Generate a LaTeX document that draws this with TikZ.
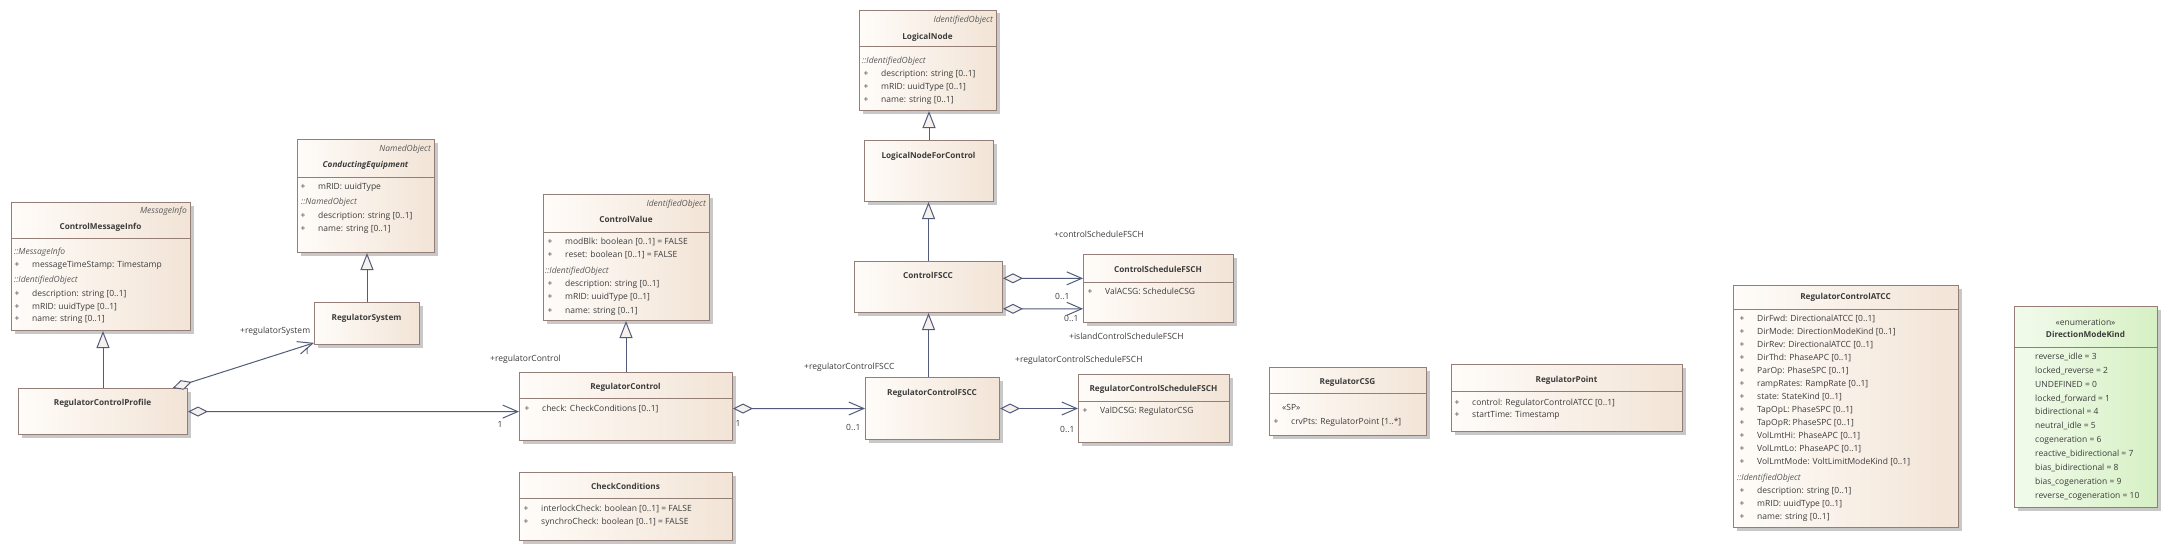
\documentclass[tikz,border=0pt]{standalone}
\usepackage{fontspec}
\setmainfont{Open Sans}
\usetikzlibrary{arrows.meta,shadows,calc}
\definecolor{fillL}{HTML}{FFFCF9}
\definecolor{fillR}{HTML}{F2E4D6}
\definecolor{gfillL}{HTML}{F2FBEC}
\definecolor{gfillR}{HTML}{D6F0C4}
\definecolor{boxc}{HTML}{947F78}
\definecolor{connc}{HTML}{525C7A}
\definecolor{txtc}{HTML}{3C3C3C}
\definecolor{sttc}{HTML}{5A5A5A}
\definecolor{shc}{HTML}{C8C8C8}
\definecolor{trif}{HTML}{F6F1EC}
\newcommand\bodyfont{\fontsize{8.5}{10}\selectfont}
\newcommand\titlefont{\fontsize{8.2}{10}\selectfont}
\newcommand\umlbox[6][cls]{\node[#1, minimum width={(#5-#3)*1pt}, minimum height={(#6-#4)*1pt}] (#2) at (#3,#4) {};}
\newcommand\sepat[2]{\draw[sepl] ([yshift=-#2pt]#1.north west) -- ([yshift=-#2pt]#1.north east);}
\tikzset{
 x=1pt, y=-1pt,
 cls/.style={draw=boxc, line width=1pt, left color=fillL, right color=fillR, inner sep=0pt, anchor=north west,
   drop shadow={shadow xshift=3pt, shadow yshift=-3pt, fill=shc, opacity=1}},
 enm/.style={cls, left color=gfillL, right color=gfillR},
 sepl/.style={draw=boxc, line width=1pt},
 t/.style={inner sep=0pt, text height=6.5pt, text depth=1.8pt, font=\bodyfont, text=txtc, anchor=west},
 pl/.style={t, anchor=center},
 it/.style={t, font=\bodyfont\itshape, text=sttc},
 ste/.style={it, anchor=east},
 ttl/.style={t, font=\titlefont\bfseries, anchor=center},
 ttli/.style={t, font=\titlefont\bfseries\itshape, anchor=center},
 conn/.style={draw=connc, line width=1pt},
 gen/.style={conn, -{Triangle[length=17pt,width=13pt,fill=trif]}},
 agg/.style={conn, {Diamond[length=20pt,width=10pt,fill=trif]}-{Straight Barb[length=15pt,width=13pt]}},
}
\begin{document}
\begin{tikzpicture}
\fill[white] (0,0) rectangle (2170,551);
\useasboundingbox (0,0) rectangle (2170,551);

% ControlMessageInfo
\umlbox{cmi}{11}{202}{190}{330}
\node[ste] (cmiS) at (187,211) {MessageInfo};
\node[ttl] (cmiT) at (100.5,227) {ControlMessageInfo};
\sepat{cmi}{36}
\node[it] (cmiA) at (14,252) {::MessageInfo};
\node[pl] (cmiP1) at (17,265) {+}; \node[t] (cmiA1) at (32,265) {messageTimeStamp: Timestamp};
\node[it] (cmiB) at (14,280) {::IdentifiedObject};
\node[pl] (cmiP2) at (17,294) {+}; \node[t] (cmiA2) at (32,294) {description: string [0..1]};
\node[pl] (cmiP3) at (17,307) {+}; \node[t] (cmiA3) at (32,307) {mRID: uuidType [0..1]};
\node[pl] (cmiP4) at (17,319) {+}; \node[t] (cmiA4) at (32,319) {name: string [0..1]};

% RegulatorControlProfile
\umlbox{rcp}{18}{388}{187}{434}
\node[ttl] (rcpT) at (102.5,403) {RegulatorControlProfile};

% ConductingEquipment
\umlbox{ce}{297}{139}{434}{252}
\node[ste] (ceS) at (431,149) {NamedObject};
\node[ttli] (ceT) at (365.5,165) {ConductingEquipment};
\sepat{ce}{38}
\node[pl] (ceP1) at (303,187) {+}; \node[t] (ceA1) at (318,187) {mRID: uuidType};
\node[it] (ceB) at (301,202) {::NamedObject};
\node[pl] (ceP2) at (303,216) {+}; \node[t] (ceA2) at (318,216) {description: string [0..1]};
\node[pl] (ceP3) at (303,229) {+}; \node[t] (ceA3) at (318,229) {name: string [0..1]};

% RegulatorSystem
\umlbox{rs}{314}{302}{419}{344}
\node[ttl] (rsT) at (366.5,318) {RegulatorSystem};

% ControlValue
\umlbox{cv}{543}{194}{709}{320}
\node[ste] (cvS) at (706,204) {IdentifiedObject};
\node[ttl] (cvT) at (626,220) {ControlValue};
\sepat{cv}{38}
\node[pl] (cvP1) at (550,242) {+}; \node[t] (cvA1) at (565,242) {modBlk: boolean [0..1] = FALSE};
\node[pl] (cvP2) at (550,255) {+}; \node[t] (cvA2) at (565,255) {reset: boolean [0..1] = FALSE};
\node[it] (cvB) at (545,271) {::IdentifiedObject};
\node[pl] (cvP3) at (550,284) {+}; \node[t] (cvA3) at (565,284) {description: string [0..1]};
\node[pl] (cvP4) at (550,297) {+}; \node[t] (cvA4) at (565,297) {mRID: uuidType [0..1]};
\node[pl] (cvP5) at (550,311) {+}; \node[t] (cvA5) at (565,311) {name: string [0..1]};

% RegulatorControl
\umlbox{rc}{519}{372}{732}{440}
\node[ttl] (rcT) at (625.5,387) {RegulatorControl};
\sepat{rc}{26}
\node[pl] (rcP1) at (527,409) {+}; \node[t] (rcA1) at (542,409) {check: CheckConditions [0..1]};

% CheckConditions
\umlbox{cc}{519}{472}{732}{540}
\node[ttl] (ccT) at (625.5,487) {CheckConditions};
\sepat{cc}{26}
\node[pl] (ccP1) at (526,509) {+}; \node[t] (ccA1) at (541,509) {interlockCheck: boolean [0..1] = FALSE};
\node[pl] (ccP2) at (526,522) {+}; \node[t] (ccA2) at (541,522) {synchroCheck: boolean [0..1] = FALSE};

% LogicalNode
\umlbox{ln}{859}{10}{996}{110}
\node[ste] (lnS) at (993,20) {IdentifiedObject};
\node[ttl] (lnT) at (927.5,37) {LogicalNode};
\sepat{ln}{37}
\node[it] (lnB) at (862,61) {::IdentifiedObject};
\node[pl] (lnP1) at (866,74) {+}; \node[t] (lnA1) at (881,74) {description: string [0..1]};
\node[pl] (lnP2) at (866,87) {+}; \node[t] (lnA2) at (881,87) {mRID: uuidType [0..1]};
\node[pl] (lnP3) at (866,100) {+}; \node[t] (lnA3) at (881,100) {name: string [0..1]};

% LogicalNodeForControl
\umlbox{lnfc}{864}{140}{993}{201}
\node[ttl] (lnfcT) at (928.5,156) {LogicalNodeForControl};

% ControlFSCC
\umlbox{cfscc}{854}{261}{1002}{312}
\node[ttl] (cfsccT) at (928,276) {ControlFSCC};

% RegulatorControlFSCC
\umlbox{rcfscc}{865}{377}{999}{439}
\node[ttl] (rcfsccT) at (932,393) {RegulatorControlFSCC};

% ControlScheduleFSCH
\umlbox{csf}{1083}{254}{1233}{322}
\node[ttl] (csfT) at (1158,270) {ControlScheduleFSCH};
\sepat{csf}{28}
\node[pl] (csfP1) at (1090,292) {+}; \node[t] (csfA1) at (1105,292) {ValACSG: ScheduleCSG};

% RegulatorControlScheduleFSCH
\umlbox{rcsf}{1078}{374}{1229}{442}
\node[ttl] (rcsfT) at (1153.5,389) {RegulatorControlScheduleFSCH};
\sepat{rcsf}{27}
\node[pl] (rcsfP1) at (1085,411) {+}; \node[t] (rcsfA1) at (1100,411) {ValDCSG: RegulatorCSG};

% RegulatorCSG
\umlbox{rcsg}{1269}{367}{1426}{435}
\node[ttl] (rcsgT) at (1347.5,382) {RegulatorCSG};
\sepat{rcsg}{26}
\node[t] (rcsgSt) at (1282,408) {«SP»};
\node[pl] (rcsgP1) at (1276,422) {+}; \node[t] (rcsgA1) at (1291,422) {crvPts: RegulatorPoint [1..*]};

% RegulatorPoint
\umlbox{rp}{1451}{364}{1682}{431}
\node[ttl] (rpT) at (1566.5,380) {RegulatorPoint};
\sepat{rp}{27}
\node[pl] (rpP1) at (1457,403) {+}; \node[t] (rpA1) at (1472,403) {control: RegulatorControlATCC [0..1]};
\node[pl] (rpP2) at (1457,415) {+}; \node[t] (rpA2) at (1472,415) {startTime: Timestamp};

% RegulatorControlATCC
\umlbox{atcc}{1733}{285}{1958}{527}
\node[ttl] (atccT) at (1845.5,297) {RegulatorControlATCC};
\sepat{atcc}{24}
\foreach \txt [count=\i] in {DirFwd: DirectionalATCC [0..1], DirMode: DirectionModeKind [0..1], DirRev: DirectionalATCC [0..1], DirThd: PhaseAPC [0..1], ParOp: PhaseSPC [0..1], rampRates: RampRate [0..1], state: StateKind [0..1], TapOpL: PhaseSPC [0..1], TapOpR: PhaseSPC [0..1], VolLmtHi: PhaseAPC [0..1], VolLmtLo: PhaseAPC [0..1], VolLmtMode: VoltLimitModeKind [0..1]} {
  \node[pl] (atccP\i) at (1742,{319+13*(\i-1)}) {+};
  \node[t] (atccA\i) at (1757,{319+13*(\i-1)}) {\txt};
}
\node[it] (atccB) at (1737,478) {::IdentifiedObject};
\node[pl] (atccQ1) at (1742,491) {+}; \node[t] (atccC1) at (1757,491) {description: string [0..1]};
\node[pl] (atccQ2) at (1742,504) {+}; \node[t] (atccC2) at (1757,504) {mRID: uuidType [0..1]};
\node[pl] (atccQ3) at (1742,517) {+}; \node[t] (atccC3) at (1757,517) {name: string [0..1]};

% DirectionModeKind
\umlbox[enm]{dmk}{2014}{306}{2157}{507}
\node[t, anchor=center] (dmkS) at (2085.5,323) {«enumeration»};
\node[ttl] (dmkT) at (2085.5,335) {DirectionModeKind};
\sepat{dmk}{41}
\foreach \txt [count=\i] in {reverse\_idle = 3, locked\_reverse = 2, UNDEFINED = 0, locked\_forward = 1, bidirectional = 4, neutral\_idle = 5, cogeneration = 6, reactive\_bidirectional = 7, bias\_bidirectional = 8, bias\_cogeneration = 9, reverse\_cogeneration = 10} {
  \node[t] (dmkA\i) at (2035,{357+13.9*(\i-1)}) {\txt};
}

% Generalizations
\draw[gen] (rcp.north) -- (rcp.north |- cmi.south);
\draw[gen] (rs.north) -- (rs.north |- ce.south);
\draw[gen] (rc.north) -- (rc.north |- cv.south);
\draw[gen] (cfscc.south |- rcfscc.north) -- (cfscc.south);
\draw[gen] (cfscc.north) -- (cfscc.north |- lnfc.south);
\draw[gen] (lnfc.north) -- (lnfc.north |- ln.south);

% Aggregations
\draw[agg] ($(rcp.north west)!0.91!(rcp.north east)$) -- ($(rs.north west)!0.95!(rs.south west)$);
\draw[agg] (rcp.east) -- ($(rc.north west)!0.574!(rc.south west)$);
\draw[agg] ($(rc.north east)!0.53!(rc.south east)$) -- (rcfscc.west);
\draw[agg] (rcfscc.east) -- (rcsf.west);
\draw[agg] ($(cfscc.north east)!0.333!(cfscc.south east)$) -- ($(csf.north west)!0.353!(csf.south west)$);
\draw[agg] ($(cfscc.north east)!0.92!(cfscc.south east)$) -- ($(csf.north west)!0.794!(csf.south west)$);

% Labels
\node[t] (l1) at (240,331) {+regulatorSystem};
\node[pl] (l2) at (307,352) {1};
\node[t] (l3) at (490,359) {+regulatorControl};
\node[pl] (l4) at (500,425) {1};
\node[pl] (l5) at (738,424) {1};
\node[t] (l6) at (846,428) {0..1};
\node[t] (l7) at (804,367) {+regulatorControlFSCC};
\node[t] (l8) at (1015,360) {+regulatorControlScheduleFSCH};
\node[t] (l9) at (1060,430) {0..1};
\node[t] (l10) at (1054,235) {+controlScheduleFSCH};
\node[t] (l11) at (1055,297) {0..1};
\node[t] (l12) at (1064,319) {0..1};
\node[t] (l13) at (1069,337) {+islandControlScheduleFSCH};
\end{tikzpicture}
\end{document}
